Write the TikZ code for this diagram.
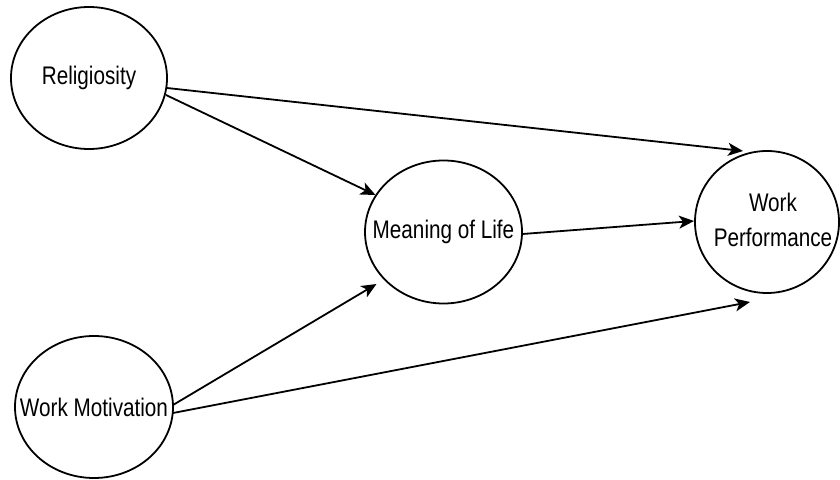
\documentclass[tikz,border=0pt]{standalone}
\usepackage{fontspec}
\setmainfont{Liberation Sans}
\usetikzlibrary{arrows.meta,shapes.geometric}
\newcommand{\vtxt}[1]{\makebox[0pt]{\scalebox{1}[1.23]{#1}}}
\begin{document}
\begin{tikzpicture}[x=1pt,y=1pt,
  var/.style={draw=black, line width=1.8pt, ellipse, inner sep=0pt, fill=white,
    font=\fontsize{20.7}{29}\selectfont},
  link/.style={line width=1.8pt, -{Stealth[length=15pt,width=13pt,inset=4pt]}}]
\useasboundingbox (0,0) rectangle (840,479);
\node[var, minimum width=156pt, minimum height=142pt] (rel) at (89,401) {\vtxt{Religiosity}};
\node[var, minimum width=158pt, minimum height=142pt] (mot) at (94,72) {\vtxt{Work Motivation}};
\node[var, minimum width=157pt, minimum height=143pt] (mol) at (443.5,247) {\vtxt{Meaning of Life}};
\node[var, minimum width=144pt, minimum height=142pt] (wp) at (767,257)
  {\makebox[0pt]{\kern12pt\scalebox{1}[1.23]{\begin{tabular}{@{}c@{}}Work\\Performance\end{tabular}}}};
\draw[link] ([shift={(78,-10)}]rel.center) -- ([shift={(-24,71)}]wp.center);
\draw[link] ([shift={(77,-17)}]rel.center) -- ([shift={(-68,37)}]mol.center);
\draw[link] ([shift={(79,-2)}]mol.center) -- ([shift={(-73,1)}]wp.center);
\draw[link] ([shift={(79,2)}]mot.center) -- ([shift={(-67,-52)}]mol.center);
\draw[link] ([shift={(79,-6)}]mot.center) -- ([shift={(-17,-80)}]wp.center);
\end{tikzpicture}
\end{document}
